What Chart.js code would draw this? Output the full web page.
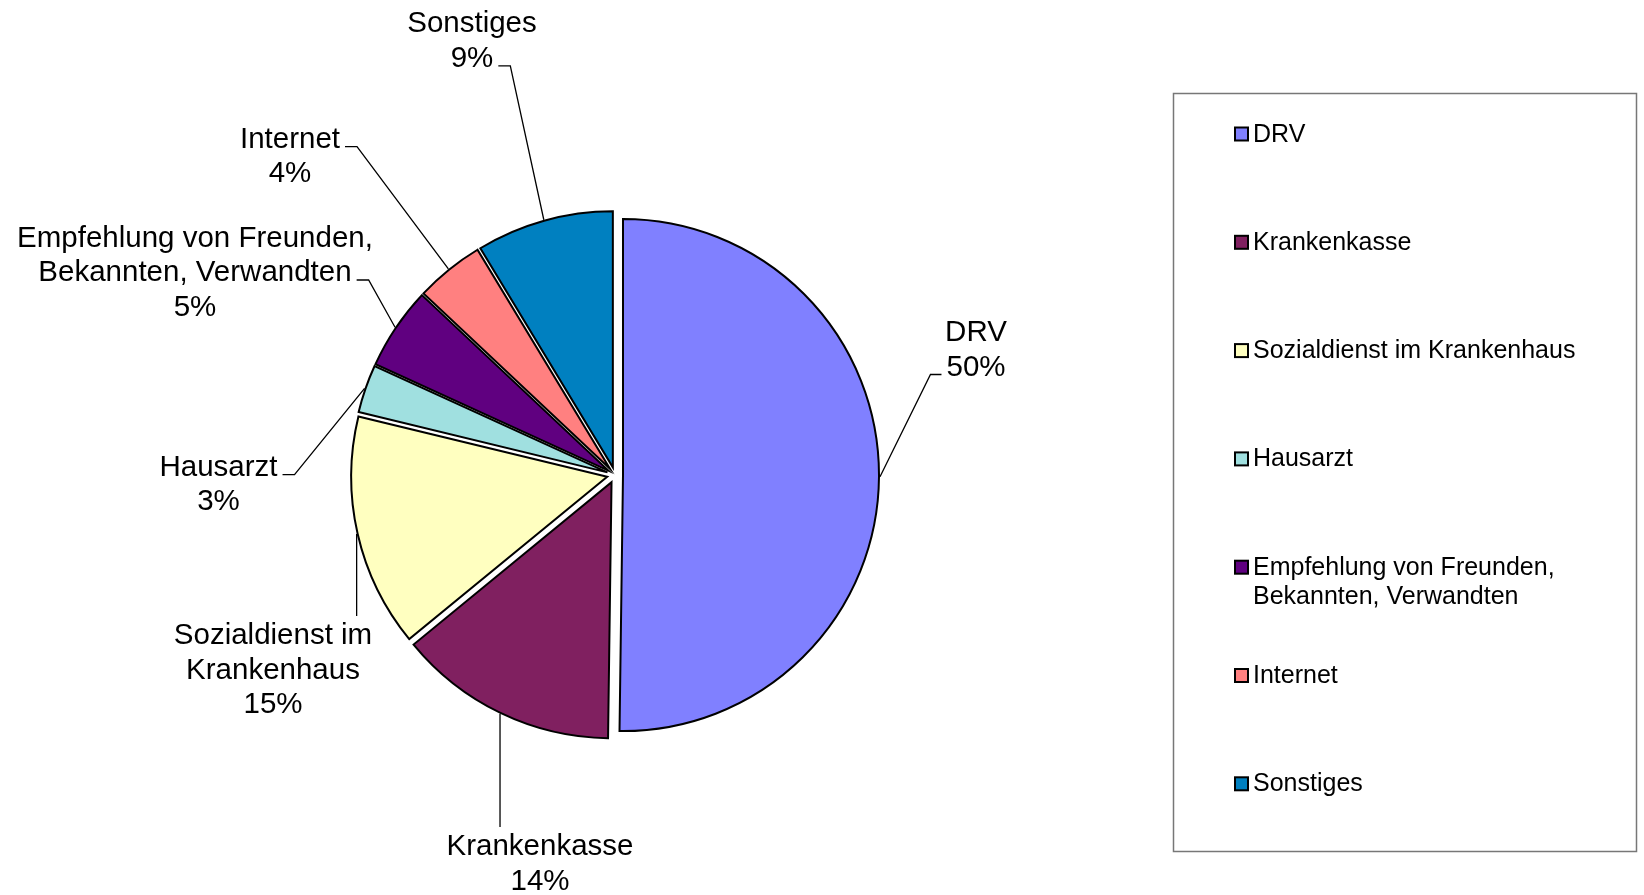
<!DOCTYPE html>
<html lang="de">
<head>
<meta charset="utf-8">
<title>Zugangswege</title>
<script src="https://cdn.jsdelivr.net/npm/chart.js@4.4.1/dist/chart.umd.min.js"></script>
<style>
  html, body { margin: 0; padding: 0; background: #fff; }
  #wrap { width: 1644px; height: 895px; }
</style>
</head>
<body>
<div id="wrap"><canvas id="pieChart" width="1644" height="895"></canvas></div>
<script>
// slices in drawing order, clockwise from 12 o'clock
const categories = [
    "DRV",
    "Krankenkasse",
    "Sozialdienst im Krankenhaus",
    "Hausarzt",
    "Empfehlung von Freunden, Bekannten, Verwandten",
    "Internet",
    "Sonstiges"
];
const counts = [116, 32, 34, 7, 12, 10, 20];
const sliceColors = ["#8080FF", "#802060", "#FFFFC0", "#A0E0E0", "#600080", "#FF8080", "#0080C0"];

// data label placement: text centre x, first baseline y, and where the leader line joins
const labelSpots = [
    { x: 976, y: 341, hook: "left", line: 1 },
    { x: 540, y: 855, hook: "top" },
    { x: 273, y: 644, hook: "top" },
    { x: 218.5, y: 475.7, hook: "right", line: 0 },
    { x: 195, y: 246.5, hook: "right", line: 1 },
    { x: 290, y: 147.7, hook: "right", line: 0 },
    { x: 472, y: 32.3, hook: "right", line: 1 }
];

const EXPLODE = 8;
const LABEL_FONT = '29.5px "Liberation Sans", Arial, sans-serif';
const LABEL_LINE = 34.5;
const LEGEND_FONT = '25px "Liberation Sans", Arial, sans-serif';
const legendBox = { left: 1173, top: 93, right: 1636, bottom: 851 };

function wrapText(ctx, text, maxWidth) {
    let lines = [];
    let current = "";
    text.split(" ").forEach(word => {
        let test = current ? current + " " + word : word;
        if (current && ctx.measureText(test).width > maxWidth) {
            lines.push(current);
            current = word;
        } else {
            current = test;
        }
    });
    if (current) lines.push(current);
    return lines;
}

function percentOf(i) {
    let total = counts.reduce((a, b) => a + b, 0);
    return Math.round(counts[i] / total * 100) + "%";
}

// every slice pulled out a little along its middle angle (Excel "explode")
const explodePlugin = {
    id: "explode",
    beforeDatasetDraw(chart, args) {
        const ctx = chart.ctx;
        args.meta.data.forEach(arc => {
            let mid = (arc.startAngle + arc.endAngle) / 2;
            ctx.save();
            ctx.translate(Math.cos(mid) * EXPLODE, Math.sin(mid) * EXPLODE);
            arc.draw(ctx);
            ctx.restore();
        });
        return false;
    }
};

// outside labels with leader lines
const labelPlugin = {
    id: "outsideLabels",
    afterDatasetsDraw(chart) {
        const ctx = chart.ctx;
        const arcs = chart.getDatasetMeta(0).data;
        ctx.save();
        ctx.font = LABEL_FONT;
        ctx.fillStyle = "#000";
        ctx.strokeStyle = "#000";
        ctx.lineWidth = 1.3;
        arcs.forEach((arc, i) => {
            let spot = labelSpots[i];
            let lines = wrapText(ctx, categories[i], 368).concat([percentOf(i)]);
            let mid = (arc.startAngle + arc.endAngle) / 2;
            let r = arc.outerRadius + EXPLODE + 1;
            let ex = arc.x + Math.cos(mid) * r;
            let ey = arc.y + Math.sin(mid) * r;

            ctx.beginPath();
            ctx.moveTo(ex, ey);
            if (spot.hook == "top") {
                ctx.lineTo(ex, spot.y - 28);
            } else {
                let w = ctx.measureText(lines[spot.line]).width;
                let ly = spot.y + spot.line * LABEL_LINE - 1;
                if (spot.hook == "right") {
                    let tx = spot.x + w / 2 + 5;
                    ctx.lineTo(tx + 12, ly);
                    ctx.lineTo(tx, ly);
                } else {
                    let tx = spot.x - w / 2 - 5;
                    ctx.lineTo(tx - 11, ly);
                    ctx.lineTo(tx, ly);
                }
            }
            ctx.stroke();

            ctx.textAlign = "center";
            ctx.textBaseline = "alphabetic";
            lines.forEach((line, k) => {
                ctx.fillText(line, spot.x, spot.y + k * LABEL_LINE);
            });
        });
        ctx.restore();
    }
};

// boxed legend on the right
const legendPlugin = {
    id: "boxLegend",
    afterDraw(chart) {
        const ctx = chart.ctx;
        ctx.save();
        ctx.strokeStyle = "#777";
        ctx.lineWidth = 1.5;
        ctx.strokeRect(legendBox.left + 0.5, legendBox.top + 0.5,
            legendBox.right - legendBox.left, legendBox.bottom - legendBox.top);

        ctx.font = LEGEND_FONT;
        ctx.textAlign = "left";
        ctx.textBaseline = "alphabetic";
        categories.forEach((name, i) => {
            let cy = 134 + i * 108.3;
            ctx.fillStyle = sliceColors[i];
            ctx.fillRect(1235, cy - 6.5, 13, 13);
            ctx.strokeStyle = "#000";
            ctx.lineWidth = 2;
            ctx.strokeRect(1235, cy - 6.5, 13, 13);
            ctx.fillStyle = "#000";
            wrapText(ctx, name, 350).forEach((line, k) => {
                ctx.fillText(line, 1253, cy + 7.5 + k * 29);
            });
        });
        ctx.restore();
    }
};

const ctx = document.getElementById("pieChart").getContext("2d");
const pieChart = new Chart(ctx, {
    type: "pie",
    data: {
        labels: categories,
        datasets: [
            {
                data: counts,
                backgroundColor: sliceColors,
                borderColor: "#000",
                borderWidth: 2,
                borderJoinStyle: "miter",
                radius: 256
            }
        ]
    },
    options: {
        responsive: false,
        animation: false,
        events: [],
        layout: {
            padding: { left: 315, right: 729, top: 175, bottom: 120 }
        },
        plugins: {
            legend: { display: false },
            tooltip: { enabled: false }
        }
    },
    plugins: [explodePlugin, labelPlugin, legendPlugin]
});
</script>
</body>
</html>
